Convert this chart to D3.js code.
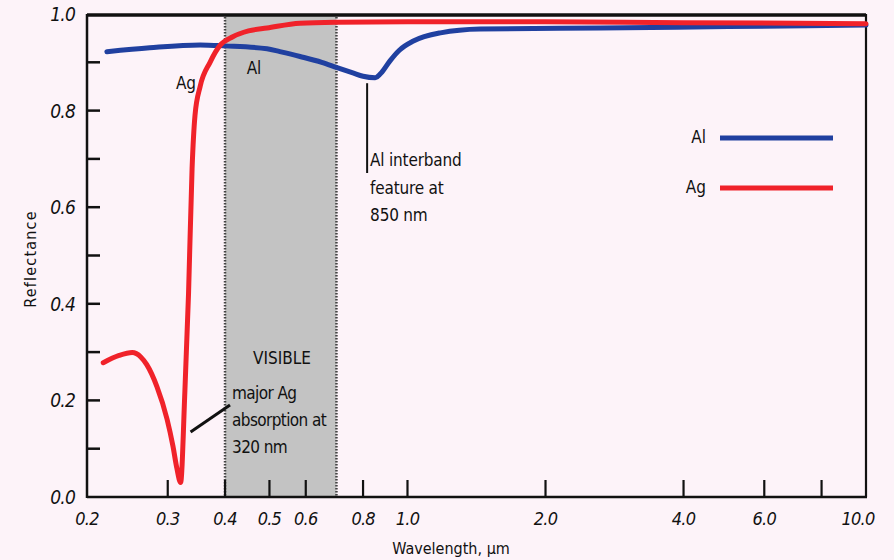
<!DOCTYPE html>
<html>
<head>
<meta charset="utf-8">
<script src="https://cdn.jsdelivr.net/npm/d3@7"></script>
<style>
  html, body { margin: 0; padding: 0; background: #fdf3f9; }
  svg { display: block; }
  text { font-family: "Liberation Sans Narrow", "DejaVu Sans Condensed", "Liberation Sans", sans-serif; fill: #111; }
</style>
</head>
<body>
<svg id="chart" width="894" height="560"></svg>
<script>
// Silver (Ag) reflectance vs wavelength (µm)
const agWavelength  = [0.217, 0.235, 0.251, 0.262, 0.270, 0.284, 0.299, 0.308, 0.314, 0.320, 0.327, 0.333, 0.339, 0.344, 0.353, 0.371, 0.390, 0.416, 0.450, 0.494, 0.583, 0.700, 1.00, 2.00, 4.00, 10.0];
const agReflectance = [0.278, 0.293, 0.299, 0.290, 0.274, 0.229, 0.161, 0.105, 0.060, 0.030, 0.220, 0.420, 0.680, 0.790, 0.850, 0.900, 0.935, 0.953, 0.965, 0.971, 0.981, 0.983, 0.984, 0.984, 0.982, 0.980];

// Aluminium (Al) reflectance vs wavelength (µm)
const alWavelength  = [0.221, 0.274, 0.353, 0.400, 0.494, 0.527, 0.583, 0.650, 0.702, 0.760, 0.800, 0.850, 0.880, 0.916, 0.960, 1.03, 1.18, 1.44, 2.63, 5.00, 10.0];
const alReflectance = [0.922, 0.930, 0.936, 0.934, 0.928, 0.922, 0.912, 0.900, 0.889, 0.878, 0.871, 0.868, 0.880, 0.903, 0.925, 0.944, 0.961, 0.969, 0.971, 0.974, 0.977];

// Axis ticks
const xTickValues = [0.3, 0.4, 0.5, 0.6, 0.8, 1.0, 2.0, 4.0, 6.0, 8.0];
const xTickLabels = ["0.2", "0.3", "0.4", "0.5", "0.6", "0.8", "1.0", "2.0", "4.0", "6.0", "10.0"];
const xLabelValues = [0.2, 0.3, 0.4, 0.5, 0.6, 0.8, 1.0, 2.0, 4.0, 6.0, 10.0];
const yTickValues = [0.1, 0.2, 0.3, 0.4, 0.5, 0.6, 0.7, 0.8, 0.9];
const yLabelValues = [0.0, 0.2, 0.4, 0.6, 0.8, 1.0];

// Visible band (µm)
const visibleBand = [0.4, 0.7];

const series = [
  { name: "Al", x: alWavelength, y: alReflectance, color: "#2040a0" },
  { name: "Ag", x: agWavelength, y: agReflectance, color: "#f0222a" }
];

const svg = d3.select("#chart");
const plotLeft = 87, plotRight = 866, plotTop = 14, plotBottom = 497;

const x = d3.scaleLog().domain([0.2, 10]).range([plotLeft, plotRight]);
const y = d3.scaleLinear().domain([0, 1]).range([plotBottom, plotTop]);

// Visible region shading
svg.append("rect")
  .attr("x", x(visibleBand[0])).attr("y", plotTop)
  .attr("width", x(visibleBand[1]) - x(visibleBand[0]))
  .attr("height", plotBottom - plotTop)
  .attr("fill", "#c3c3c3");
visibleBand.forEach(v => {
  svg.append("line")
    .attr("x1", x(v)).attr("x2", x(v)).attr("y1", plotTop).attr("y2", plotBottom)
    .attr("stroke", "#444").attr("stroke-width", 2.5).attr("stroke-dasharray", "1.5,1.5");
});

// Frame
svg.append("line").attr("x1", plotLeft).attr("x2", plotRight).attr("y1", plotTop + 1).attr("y2", plotTop + 1)
  .attr("stroke", "#111").attr("stroke-width", 3.5);
svg.append("line").attr("x1", plotRight).attr("x2", plotRight).attr("y1", plotTop).attr("y2", plotBottom)
  .attr("stroke", "#111").attr("stroke-width", 2.2);
svg.append("line").attr("x1", plotLeft).attr("x2", plotLeft).attr("y1", plotTop).attr("y2", plotBottom + 1)
  .attr("stroke", "#111").attr("stroke-width", 2.5);
svg.append("line").attr("x1", plotLeft).attr("x2", plotRight + 1).attr("y1", plotBottom).attr("y2", plotBottom)
  .attr("stroke", "#111").attr("stroke-width", 2.5);

// Inward ticks
svg.append("g").selectAll("line").data(xTickValues).join("line")
  .attr("x1", d => x(d)).attr("x2", d => x(d))
  .attr("y1", plotBottom).attr("y2", plotBottom - 17)
  .attr("stroke", "#111").attr("stroke-width", 2.2);
svg.append("g").selectAll("line").data(yTickValues).join("line")
  .attr("x1", plotLeft).attr("x2", plotLeft + 13)
  .attr("y1", d => y(d)).attr("y2", d => y(d))
  .attr("stroke", "#111").attr("stroke-width", 2.5);

// Tick labels
svg.append("g").selectAll("text").data(xLabelValues).join("text")
  .attr("x", d => x(d) - (d === 10 ? 8 : 0)).attr("y", plotBottom + 28)
  .attr("text-anchor", "middle")
  .attr("font-size", 18).attr("font-style", "italic")
  .attr("letter-spacing", "-0.8")
  .text((d, i) => xTickLabels[i]);
svg.append("g").selectAll("text").data(yLabelValues).join("text")
  .attr("x", plotLeft - 12).attr("y", d => y(d) + 7)
  .attr("text-anchor", "end")
  .attr("font-size", 19).attr("font-style", "italic")
  .attr("letter-spacing", "-0.8")
  .text(d => d.toFixed(1));

// Axis titles
svg.append("text")
  .attr("x", 451).attr("y", 554)
  .attr("text-anchor", "middle").attr("font-size", 16)
  .text("Wavelength, µm");
svg.append("text")
  .attr("transform", "translate(36,259) rotate(-90)")
  .attr("text-anchor", "middle").attr("font-size", 16)
  .attr("letter-spacing", "1.2")
  .text("Reflectance");

// Curves
const line = d3.line().curve(d3.curveMonotoneX);
series.forEach(s => {
  const pts = s.x.map((v, i) => [x(v), y(s.y[i])]);
  svg.append("path")
    .attr("d", line(pts))
    .attr("fill", "none")
    .attr("stroke", s.color)
    .attr("stroke-width", 5)
    .attr("stroke-linejoin", "round")
    .attr("stroke-linecap", "round");
});

// Curve labels
svg.append("text").attr("x", 186).attr("y", 89).attr("text-anchor", "middle")
  .attr("font-size", 17).text("Ag");
svg.append("text").attr("x", 254).attr("y", 74).attr("text-anchor", "middle")
  .attr("font-size", 17).text("Al");

// Al interband annotation
const alFeature = 0.85;
svg.append("line")
  .attr("x1", x(alFeature) - 8).attr("x2", x(alFeature) - 8)
  .attr("y1", y(0.865) + 4).attr("y2", 173)
  .attr("stroke", "#111").attr("stroke-width", 2);
[["Al interband", 166], ["feature at", 194], ["850 nm", 221]].forEach(([t, yy]) => {
  svg.append("text").attr("x", x(alFeature) - 5).attr("y", yy)
    .attr("font-size", 17).attr("letter-spacing", "-0.2").text(t);
});

// Visible label and Ag absorption annotation
svg.append("text").attr("x", 282).attr("y", 364).attr("text-anchor", "middle")
  .attr("font-size", 17).text("VISIBLE");
svg.append("line")
  .attr("x1", x(0.32) + 10).attr("y1", 432)
  .attr("x2", 230).attr("y2", 405)
  .attr("stroke", "#111").attr("stroke-width", 3);
[["major Ag", 399], ["absorption at", 426], ["320 nm", 453]].forEach(([t, yy]) => {
  svg.append("text").attr("x", 232).attr("y", yy)
    .attr("font-size", 17).attr("letter-spacing", "-0.6").text(t);
});

// Legend
series.forEach((s, i) => {
  const ly = 138 + i * 50;
  svg.append("text").attr("x", 706).attr("y", ly + 5).attr("text-anchor", "end")
    .attr("font-size", 17).text(s.name);
  svg.append("line").attr("x1", 720).attr("x2", 833).attr("y1", ly).attr("y2", ly)
    .attr("stroke", s.color).attr("stroke-width", 5);
});
</script>
</body>
</html>
